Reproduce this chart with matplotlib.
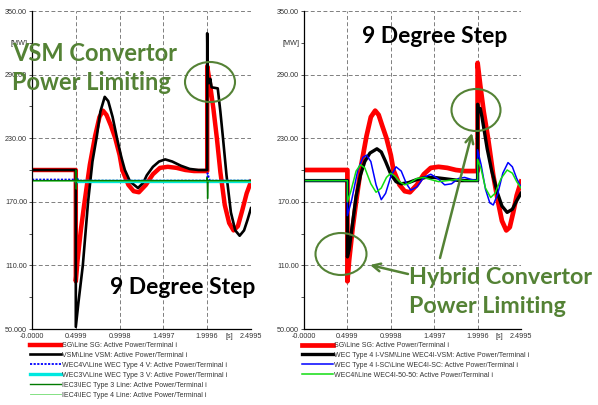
import numpy as np
import matplotlib
matplotlib.use("Agg")
import matplotlib.pyplot as plt
from matplotlib.patches import Ellipse, FancyArrowPatch

# ---- data (time in s, power in MW) ----
# left: VSM convertor case
t_sg_l = [0, 0.4999, 0.4999, 0.52, 0.56, 0.60, 0.66, 0.72, 0.77, 0.81, 0.85, 0.90, 0.95,
          1.00, 1.03, 1.10, 1.16, 1.22, 1.30, 1.38, 1.46, 1.55, 1.65, 1.75, 1.85, 1.9996,
          1.9996, 2.03, 2.07, 2.11, 2.15, 2.20, 2.25, 2.30, 2.35, 2.40, 2.45, 2.4995]
p_sg_l = [200, 200, 95, 115, 145, 170, 205, 232, 250, 256, 252, 242, 230,
          214, 200, 186, 180, 179, 186, 196, 202, 203, 202, 200, 199, 199,
          298, 282, 258, 230, 198, 167, 150, 143, 147, 162, 178, 189]

t_vsm_l = [0, 0.4999, 0.4999, 0.53, 0.58, 0.64, 0.69, 0.74, 0.78, 0.83, 0.87, 0.92, 0.97,
           1.02, 1.06, 1.12, 1.21, 1.27, 1.31, 1.38, 1.45, 1.52, 1.60, 1.70, 1.80, 1.90,
           1.9996, 1.9996, 2.006, 2.02, 2.035, 2.05, 2.12, 2.15, 2.18, 2.22, 2.27, 2.32,
           2.37, 2.42, 2.46, 2.4995]
p_vsm_l = [200, 200, 52, 75, 110, 170, 208, 232, 255, 269, 265, 250, 230,
           212, 200, 189, 183, 188, 195, 203, 208, 210, 208, 204, 201, 200,
           200, 329, 288, 282, 286, 278, 277, 255, 230, 195, 160, 143,
           138, 143, 153, 164]

t_wec4v_l = [0, 0.4999, 0.505, 0.515, 0.53, 1.9996, 2.003, 2.03, 2.4995]
p_wec4v_l = [191, 191, 186, 193, 190, 190, 197, 190, 190]

t_wec3v_l = [0.4999, 2.4995]
p_wec3v_l = [190, 190]

t_iec3_l = [0, 0.4999, 0.4999, 0.505, 0.51, 0.52, 1.9996, 1.9996, 2.004, 2.01, 2.4995]
p_iec3_l = [190, 190, 200, 182, 192, 190, 190, 193, 173, 190, 190]

t_iec4_l = [0, 2.4995]
p_iec4_l = [190, 190]

# right: hybrid convertor case
t_sg_r = [0, 0.4999, 0.4999, 0.52, 0.56, 0.60, 0.66, 0.72, 0.77, 0.82, 0.86, 0.90, 0.95,
          1.00, 1.03, 1.10, 1.16, 1.22, 1.30, 1.38, 1.46, 1.55, 1.65, 1.75, 1.85, 1.9996,
          1.9996, 2.03, 2.07, 2.12, 2.18, 2.235, 2.28, 2.33, 2.37, 2.41, 2.45, 2.4995]
p_sg_r = [200, 200, 95, 115, 145, 170, 205, 232, 250, 256, 252, 242, 230,
          214, 200, 186, 180, 179, 186, 196, 202, 203, 202, 200, 199, 199,
          301, 280, 255, 230, 195, 170, 152, 143, 146, 160, 176, 189]

t_vsm_r = [0, 0.4999, 0.4999, 0.52, 0.56, 0.60, 0.65, 0.70, 0.76, 0.84, 0.89, 0.94, 1.00,
           1.06, 1.12, 1.20, 1.30, 1.40, 1.50, 1.60, 1.70, 1.80, 1.90, 1.9996, 1.9996,
           2.01, 2.03, 2.05, 2.08, 2.11, 2.16, 2.23, 2.28, 2.34, 2.40, 2.45, 2.4995]
p_vsm_r = [190, 190, 118, 125, 150, 175, 195, 208, 216, 220, 217, 208, 196,
           189, 187, 188, 191, 193, 193, 192, 191, 190, 190, 190, 262,
           255, 258, 250, 235, 220, 200, 178, 166, 160, 163, 171, 178]

t_sc_r = [0, 0.4999, 0.4999, 0.55, 0.62, 0.68, 0.72, 0.77, 0.83, 0.89, 0.94, 1.00, 1.06,
          1.12, 1.18, 1.23, 1.30, 1.38, 1.46, 1.54, 1.62, 1.70, 1.78, 1.85, 1.93, 1.9996,
          1.9996, 2.04, 2.09, 2.14, 2.18, 2.23, 2.29, 2.35, 2.40, 2.45, 2.4995]
p_sc_r = [190, 190, 157, 172, 200, 212, 214, 208, 186, 172, 178, 194, 203,
          199, 187, 181, 184, 193, 196, 192, 186, 187, 192, 193, 191, 190,
          219, 205, 182, 169, 167, 177, 197, 207, 203, 192, 184]

t_5050_r = [0, 0.4999, 0.4999, 0.54, 0.60, 0.65, 0.70, 0.77, 0.83, 0.89, 0.95, 1.00, 1.05,
            1.10, 1.16, 1.22, 1.30, 1.38, 1.46, 1.55, 1.65, 1.75, 1.85, 1.9996, 1.9996,
            2.04, 2.09, 2.15, 2.20, 2.27, 2.34, 2.40, 2.45, 2.4995]
p_5050_r = [190, 190, 170, 180, 199, 205, 202, 187, 179, 183, 193, 197, 194,
            189, 186, 188, 192, 193, 191, 189, 190, 191, 190, 190, 210,
            201, 183, 174, 178, 192, 200, 197, 189, 183]

xticks = [0, 0.4999, 0.9998, 1.4997, 1.9996, 2.4995]
xlabels = ["-0.0000", "0.4999", "0.9998", "1.4997", "1.9996", "2.4995"]
yticks = [50, 110, 170, 230, 290, 350]
ylabels = ["50.000", "110.00", "170.00", "230.00", "290.00", "350.00"]

labels_l = [r"SG\Line SG: Active Power/Terminal i",
            r"VSM\Line VSM: Active Power/Terminal i",
            r"WEC4V\Line WEC Type 4 V: Active Power/Terminal i",
            r"WEC3V\Line WEC Type 3 V: Active Power/Terminal i",
            r"IEC3\IEC Type 3 Line: Active Power/Terminal i",
            r"IEC4\IEC Type 4 Line: Active Power/Terminal i"]
labels_r = [r"SG\Line SG: Active Power/Terminal i",
            r"WEC Type 4 I-VSM\Line WEC4I-VSM: Active Power/Terminal i",
            r"WEC Type 4 I-SC\Line WEC4I-SC: Active Power/Terminal i",
            r"WEC4I\Line WEC4I-50-50: Active Power/Terminal i"]

green = "#548235"
W, H = 598, 405

fig = plt.figure(figsize=(W / 100, H / 100), dpi=100)
ax1 = fig.add_axes([32 / W, 1 - 329 / H, 219 / W, 318 / H])
ax2 = fig.add_axes([304 / W, 1 - 329 / H, 217 / W, 318 / H])


def style_axes(ax):
    ax.set_xlim(0, 2.4995)
    ax.set_ylim(50, 350)
    ax.set_xticks(xticks)
    ax.set_xticklabels(xlabels)
    ax.set_yticks(yticks)
    ax.set_yticklabels(ylabels)
    ax.set_xticks([2.24955], minor=True)
    ax.set_xticklabels(["[s]"], minor=True)
    ax.set_yticks([80, 140, 200, 260, 320], minor=True)
    ax.set_yticklabels(["", "", "", "", "[MW]"], minor=True)
    ax.tick_params(which="both", labelsize=5.2, colors="#333333", pad=1,
                   labelfontfamily="Liberation Sans")
    ax.tick_params(axis="y", which="major", length=2.5, width=0.6)
    ax.tick_params(axis="y", which="minor", length=2, width=0.6)
    ax.tick_params(axis="x", which="both", length=0, pad=3)
    ax.grid(True, which="major", color="#7f7f7f", linestyle=(0, (4, 2.5)), lw=0.7)
    for s in ["top", "right"]:
        ax.spines[s].set_visible(False)
    for s in ["left", "bottom"]:
        ax.spines[s].set_linewidth(0.9)
        ax.spines[s].set_zorder(5)


style_axes(ax1)
style_axes(ax2)

# left panel
ax1.plot(t_sg_l, p_sg_l, color="#ff0000", lw=3.2, label=labels_l[0])
ax1.plot(t_vsm_l, p_vsm_l, color="black", lw=1.9, label=labels_l[1])
ax1.plot(t_wec4v_l, p_wec4v_l, color="#0000ff", lw=1.3, ls=(0, (1.2, 0.8)), label=labels_l[2])
ax1.plot(t_wec3v_l, p_wec3v_l, color="#00e8e0", lw=2.4, label=labels_l[3])
ax1.plot(t_iec3_l, p_iec3_l, color="#007a00", lw=1.0, label=labels_l[4])
ax1.plot(t_iec4_l, p_iec4_l, color="#33cc33", lw=0.6, alpha=0.7, label=labels_l[5])

# right panel
ax2.plot(t_sg_r, p_sg_r, color="#ff0000", lw=3.4, label=labels_r[0])
ax2.plot(t_vsm_r, p_vsm_r, color="black", lw=2.4, label=labels_r[1])
ax2.plot(t_sc_r, p_sc_r, color="#0000ff", lw=1.1, label=labels_r[2])
ax2.plot(t_5050_r, p_5050_r, color="#11dd11", lw=1.1, label=labels_r[3])

for ax, x0 in [(ax1, 30), (ax2, 302)]:
    leg = ax.legend(loc="upper left", bbox_to_anchor=(x0 / W, 1 - 342 / H),
                    bbox_transform=fig.transFigure, frameon=False, borderpad=0,
                    borderaxespad=0, handlelength=4.4, handletextpad=0.15,
                    labelspacing=0.42, prop={"family": "Liberation Sans", "size": 5})
    for t in leg.get_texts():
        t.set_color("#333333")

# annotations
tfont = dict(family="Lato", weight="bold")
fig.text(12 / W, 1 - 61 / H, "VSM Convertor", color=green, fontsize=17, va="baseline", **tfont)
fig.text(12 / W, 1 - 90 / H, "Power Limiting", color=green, fontsize=17, va="baseline", **tfont)
fig.text(110 / W, 1 - 294 / H, "9 Degree Step", color="black", fontsize=16.5, va="baseline", **tfont)
fig.text(362 / W, 1 - 43 / H, "9 Degree Step", color="black", fontsize=16.5, va="baseline", **tfont)
fig.text(409 / W, 1 - 284 / H, "Hybrid Convertor", color=green, fontsize=16.8, va="baseline", **tfont)
fig.text(409 / W, 1 - 313 / H, "Power Limiting", color=green, fontsize=16.8, va="baseline", **tfont)

for cx, cy, w, h in [(210, 82, 50, 40), (476, 110, 49, 42), (341, 254, 51, 42)]:
    fig.add_artist(Ellipse((cx / W, 1 - cy / H), w / W, h / H, transform=fig.transFigure,
                           fill=False, edgecolor=green, lw=1.5))

for (x0, y0), (x1, y1) in [((408, 274), (370, 265)), ((440, 258), (472, 133))]:
    fig.add_artist(FancyArrowPatch((x0 / W, 1 - y0 / H), (x1 / W, 1 - y1 / H),
                                   transform=fig.transFigure, arrowstyle="->",
                                   mutation_scale=14, color=green, lw=1.8,
                                   shrinkA=0, shrinkB=0))

fig.savefig("out.png", dpi=100, facecolor="white")
